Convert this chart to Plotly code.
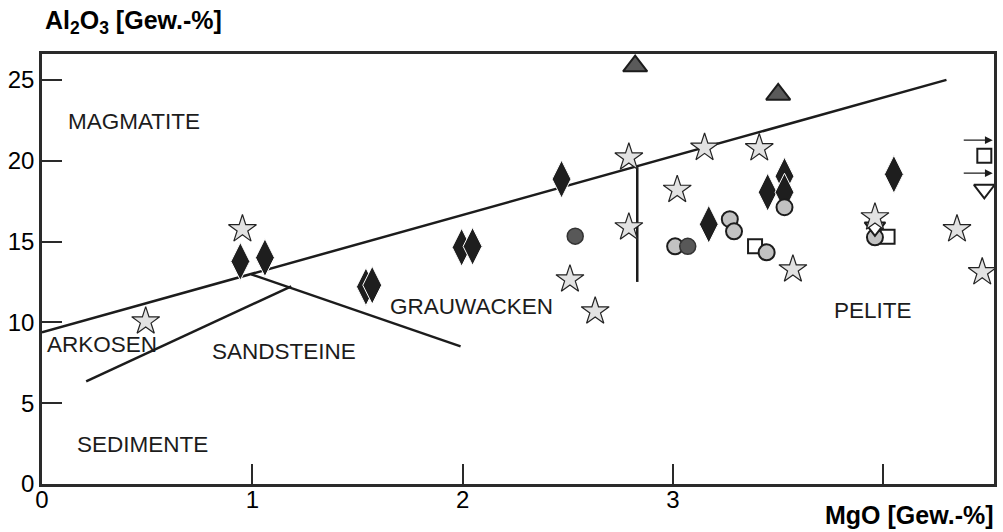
import plotly.graph_objects as go

# ---- data (MgO, Al2O3 in wt-%) ----
star_x = [0.953, 0.493, 2.51, 2.63, 2.79, 2.79, 3.02, 3.15, 3.41, 3.57, 3.96, 4.35, 4.47]
star_y = [15.76, 10.06, 12.66, 10.68, 20.2, 15.88, 18.2, 20.8, 20.77, 13.28, 16.5, 15.76, 13.1]

diam_x = [0.943, 1.06, 1.54, 1.57, 1.995, 2.047, 2.47, 3.17, 3.45, 3.53, 3.53, 4.05]
diam_y = [13.77, 14.0, 12.2, 12.3, 14.64, 14.7, 18.86, 16.07, 18.05, 19.04, 18.05, 19.16]

lcirc_x = [3.01, 3.27, 3.29, 3.445, 3.53, 3.96]
lcirc_y = [14.7, 16.38, 15.63, 14.33, 17.12, 15.26]

dcirc_x = [2.535, 3.07]
dcirc_y = [15.33, 14.7]

sq_x = [3.39, 4.02, 4.48]
sq_y = [14.7, 15.3, 20.3]

tdown_x = [3.96, 4.48]
tdown_y = [15.9, 18.23]

tup_x = [2.82, 3.50]
tup_y = [25.85, 24.1]

# off-scale arrows (y values)
arrow_y = [21.27, 19.23]

# field boundaries
b_main_x = [0.0, 4.30]
b_main_y = [9.38, 25.0]
b_vert_x = [2.83, 2.83]
b_vert_y = [19.6, 12.5]
b_grau_x = [0.995, 1.99]
b_grau_y = [12.97, 8.51]
b_ark_x = [0.21, 1.185]
b_ark_y = [6.35, 12.23]

labels = ["MAGMATITE", "ARKOSEN", "SANDSTEINE", "GRAUWACKEN", "PELITE", "SEDIMENTE"]
label_x = [0.435, 0.015, 1.15, 2.04, 3.95, 0.48]
label_y = [22.45, 8.64, 8.2, 11.0, 10.74, 2.45]
label_anchor = ["center", "left", "center", "center", "center", "center"]

x_ticks = [0, 1, 2, 3, 4]
x_ticktext = ["0", "1", "2", "3", ""]
y_ticks = [0, 5, 10, 15, 20, 25]

FONT = "Liberation Sans, Arial, sans-serif"
INK = "#1c1c1c"

fig = go.Figure()

for bx, by in [(b_main_x, b_main_y), (b_vert_x, b_vert_y), (b_grau_x, b_grau_y), (b_ark_x, b_ark_y)]:
    fig.add_trace(go.Scatter(x=bx, y=by, mode="lines", line=dict(color=INK, width=2.5),
                             hoverinfo="skip", showlegend=False))

fig.add_trace(go.Scatter(x=diam_x, y=diam_y, mode="markers", showlegend=False,
                         marker=dict(symbol="diamond-tall", size=27, color="#1e1e1e",
                                     line=dict(color="white", width=1))))
fig.add_trace(go.Scatter(x=sq_x, y=sq_y, mode="markers", showlegend=False,
                         marker=dict(symbol="square", size=14, color="white",
                                     line=dict(color=INK, width=2))))
fig.add_trace(go.Scatter(x=lcirc_x, y=lcirc_y, mode="markers", showlegend=False,
                         marker=dict(symbol="circle", size=16, color="#c2c2c2",
                                     line=dict(color=INK, width=2))))
fig.add_trace(go.Scatter(x=dcirc_x, y=dcirc_y, mode="markers", showlegend=False,
                         marker=dict(symbol="circle", size=16, color="#585858",
                                     line=dict(color="#333333", width=1.5))))
fig.add_trace(go.Scatter(x=tdown_x, y=tdown_y, mode="markers", showlegend=False,
                         marker=dict(symbol="triangle-down", size=18, color="white",
                                     line=dict(color=INK, width=2))))
fig.add_trace(go.Scatter(x=star_x, y=star_y, mode="markers", showlegend=False,
                         marker=dict(symbol="star", size=21, color="#e2e2e2",
                                     line=dict(color="#222222", width=1.2))))
fig.add_trace(go.Scatter(x=tup_x, y=tup_y, mode="markers", showlegend=False,
                         marker=dict(symbol="triangle-up", size=21, color="#5a5a5a",
                                     line=dict(color=INK, width=2))))

for t, lx, ly, an in zip(labels, label_x, label_y, label_anchor):
    fig.add_annotation(x=lx, y=ly, text=t, showarrow=False, xanchor=an, yanchor="middle",
                       font=dict(family=FONT, size=22.5, color=INK))

for ay_ in arrow_y:
    fig.add_annotation(x=4.52, y=ay_, ax=4.375, ay=ay_, xref="x", yref="y", axref="x", ayref="y",
                       text="", showarrow=True, arrowhead=2, arrowsize=1.2, arrowwidth=1.3,
                       arrowcolor=INK)

fig.add_annotation(x=0.001, y=1.074, xref="paper", yref="paper", xanchor="left", yanchor="middle",
                   text="<b>Al<sub>2</sub>O<sub>3</sub> [Gew.-%]</b>", showarrow=False,
                   font=dict(family=FONT, size=25, color="black"))
fig.add_annotation(x=1.002, y=-0.072, xref="paper", yref="paper", xanchor="right", yanchor="middle",
                   text="<b>MgO [Gew.-%]</b>", showarrow=False,
                   font=dict(family=FONT, size=25, color="black"))

axis_common = dict(showgrid=False, zeroline=False, showline=True, linecolor="#2a2a2a",
                   linewidth=2.5, mirror=True, ticks="inside", ticklen=20, tickwidth=2,
                   tickcolor="#2a2a2a", tickfont=dict(family=FONT, size=24, color="black"))

fig.update_xaxes(range=[0, 4.526], tickvals=x_ticks, ticktext=x_ticktext,
                 ticklabelstandoff=-8, **axis_common)
fig.update_yaxes(range=[0, 26.6], tickvals=y_ticks, **axis_common)

fig.update_layout(width=1003, height=532, margin=dict(l=42, r=6, t=54, b=48),
                  plot_bgcolor="white", paper_bgcolor="white", showlegend=False)

fig.write_html("out.html")
